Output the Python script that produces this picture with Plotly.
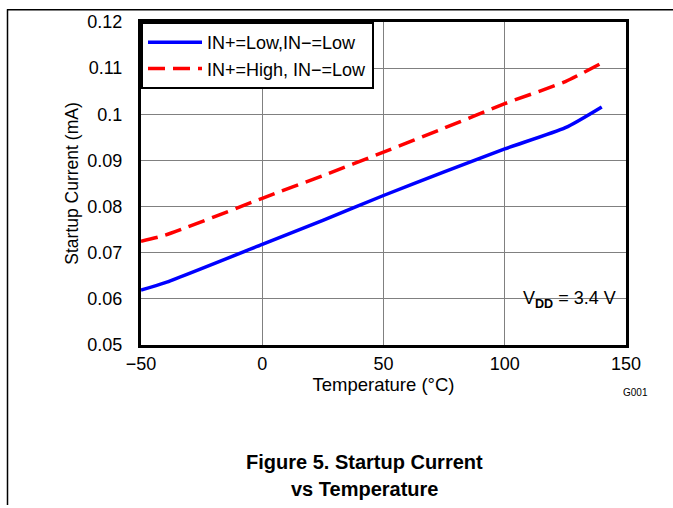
import plotly.graph_objects as go

temp = [-50, -40, 0, 25, 50, 75, 100, 125, 140]
low_low = [0.0619, 0.0635, 0.0718, 0.0770, 0.0824, 0.0875, 0.0925, 0.0971, 0.1016]
high_low = [0.0725, 0.0738, 0.0818, 0.0867, 0.0918, 0.0970, 0.1023, 0.1071, 0.1111]
xticks = [-50, 0, 50, 100, 150]
xticklabels = ["\u221250", "0", "50", "100", "150"]
yticks = [0.05, 0.06, 0.07, 0.08, 0.09, 0.10, 0.11, 0.12]
yticklabels = ["0.05", "0.06", "0.07", "0.08", "0.09", "0.1", "0.11", "0.12"]

W, H = 673, 508
L, R, T, B = 141, 626, 16, 345

fig = go.Figure()
fig.add_trace(go.Scatter(x=temp, y=low_low, mode="lines", name="IN+=Low,IN\u2212=Low",
                         line=dict(color="#0000ff", width=3.5, shape="spline", smoothing=0.6)))
fig.add_trace(go.Scatter(x=temp, y=high_low, mode="lines", name="IN+=High, IN\u2212=Low",
                         line=dict(color="#ff0000", width=3.5, dash="17px,8px", shape="spline", smoothing=0.6)))

font = "Liberation Sans, Arial, sans-serif"
fig.update_layout(
    width=W, height=H,
    margin=dict(l=L, r=W - R, t=T, b=H - B, pad=0),
    paper_bgcolor="white", plot_bgcolor="white",
    font=dict(family=font, size=18, color="black"),
    showlegend=True,
    legend=dict(x=0, y=1, xanchor="left", yanchor="top", bgcolor="white",
                bordercolor="black", borderwidth=2, font=dict(size=18),
                tracegroupgap=0, itemwidth=54),
    xaxis=dict(range=[-50, 150], tickvals=xticks, ticktext=xticklabels,
               showgrid=True, gridcolor="#808080", gridwidth=1,
               showline=True, linecolor="black", linewidth=3, mirror=True,
               ticks="", zeroline=False, tickfont=dict(size=18),
               title=dict(text="Temperature (\u00b0C)", font=dict(size=18.5), standoff=4)),
    yaxis=dict(range=[0.05, 0.12], tickvals=yticks, ticktext=yticklabels,
               showgrid=True, gridcolor="#808080", gridwidth=1,
               showline=True, linecolor="black", linewidth=3, mirror=True,
               ticks="", zeroline=False, ticklabelstandoff=12, tickfont=dict(size=18),
               title=dict(text="Startup Current (mA)", font=dict(size=17.5), standoff=5)),
)

def px(x):
    return (x - L) / (R - L)

def py(y):
    return (B - y) / (B - T)

fig.add_annotation(x=px(618), y=py(299), xref="paper", yref="paper",
                   text="V<sub><b>DD</b></sub> = 3.4 V", showarrow=False,
                   xanchor="right", yanchor="middle", font=dict(size=18))
fig.add_annotation(x=px(650), y=py(393), xref="paper", yref="paper",
                   text="G001", showarrow=False, xanchor="right", yanchor="middle",
                   font=dict(size=10))
fig.add_annotation(x=px(364), y=py(464), xref="paper", yref="paper",
                   text="<b>Figure 5. Startup Current</b>", showarrow=False,
                   xanchor="center", yanchor="middle", font=dict(size=20))
fig.add_annotation(x=px(364), y=py(492), xref="paper", yref="paper",
                   text="<b>vs Temperature</b>", showarrow=False,
                   xanchor="center", yanchor="middle", font=dict(size=20))

# outer frame lines (top and left)
fig.add_shape(type="line", xref="paper", yref="paper", x0=px(7), x1=px(673), y0=py(3.5), y1=py(3.5),
              line=dict(color="black", width=1.5))
fig.add_shape(type="line", xref="paper", yref="paper", x0=px(7.5), x1=px(7.5), y0=py(3), y1=py(508),
              line=dict(color="black", width=1.5))

fig.write_html("out.html", config={"displayModeBar": False},
               post_script="document.body.style.margin='0';document.body.style.padding='0';"
                           "document.documentElement.style.margin='0';")
